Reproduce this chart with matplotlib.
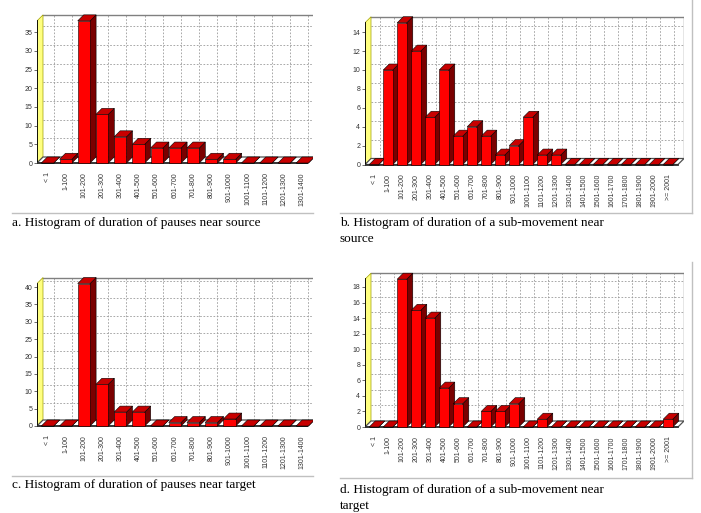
import matplotlib.pyplot as plt
from matplotlib.patches import Polygon

plt.rcParams['font.family'] = ['Liberation Sans', 'DejaVu Sans']

cats_short = ['< 1', '1-100', '101-200', '201-300', '301-400', '401-500', '501-600',
              '601-700', '701-800', '801-900', '901-1000', '1001-1100', '1101-1200',
              '1201-1300', '1301-1400']
cats_long = ['< 1', '1-100', '101-200', '201-300', '301-400', '401-500', '501-600',
             '601-700', '701-800', '801-900', '901-1000', '1001-1100', '1101-1200',
             '1201-1300', '1301-1400', '1401-1500', '1501-1600', '1601-1700',
             '1701-1800', '1801-1900', '1901-2000', '>= 2001']

pauses_source = [0, 1, 38, 13, 7, 5, 4, 4, 4, 1, 1, 0, 0, 0, 0]
submove_source = [0, 10, 15, 12, 5, 10, 3, 4, 3, 1, 2, 5, 1, 1, 0, 0, 0, 0, 0, 0, 0, 0]
pauses_target = [0, 0, 41, 12, 4, 4, 0, 1, 1, 1, 2, 0, 0, 0, 0]
submove_target = [0, 0, 19, 15, 14, 5, 3, 0, 2, 2, 3, 0, 1, 0, 0, 0, 0, 0, 0, 0, 0, 1]

captions = ['a. Histogram of duration of pauses near source',
            'b. Histogram of duration of a sub-movement near\nsource',
            'c. Histogram of duration of pauses near target',
            'd. Histogram of duration of a sub-movement near\ntarget']

W, H = 701, 513
fig = plt.figure(figsize=(W / 100, H / 100), dpi=100)


def bar3d_panel(cats, vals, yticks, axis_x, cat0, step, zero, unit, top, right, edge):
    # pixel geometry -> axes in figure coords
    bottom = zero + 5
    ax = fig.add_axes([axis_x / W, 1 - bottom / H, (right - axis_x) / W, (bottom - top) / H])
    xl = (axis_x - cat0) / step
    xr = (right - cat0) / step
    ax.set_xlim(xl, xr)
    ax.set_ylim(-5 / unit, (zero - top) / unit)
    dx = 6 / step
    dy = 6 / unit
    ymax = max(vals)
    for s in ax.spines.values():
        s.set_visible(False)

    # back wall grid
    for t in yticks[1:]:
        ax.plot([xl + dx, xr], [t + dy, t + dy], ls=(0, (2, 2)), color='#9a9a9a', lw=0.6, zorder=1)
    for i in range(len(cats)):
        ax.plot([i + dx, i + dx], [dy, ymax + dy], ls=(0, (2, 2)), color='#9a9a9a', lw=0.6, zorder=1)
    ax.plot([xl + dx, xr], [ymax + dy, ymax + dy], color='#808080', lw=1.0, zorder=1)
    if edge:
        ax.plot([xr, xr], [dy, ymax + dy], color='#808080', lw=1.0, zorder=1)

    # yellow left wall
    ax.add_patch(Polygon([(xl, 0), (xl, ymax), (xl + dx, ymax + dy), (xl + dx, dy)],
                         closed=True, fc='#ffff80', ec='#a0a000', lw=0.5, zorder=2))
    ax.plot([xl, xl], [0, ymax], color='black', lw=1.3, zorder=3)

    # floor
    ax.add_patch(Polygon([(xl, 0), (xr - dx, 0), (xr, dy), (xl + dx, dy)],
                         closed=True, fc='white', ec='#505050', lw=0.9, zorder=2))
    ax.plot([xl, xr - dx], [0, 0], color='#303030', lw=1.3, zorder=3)

    w = 0.34
    for i, v in enumerate(vals):
        front = [(i - w, 0), (i + w, 0), (i + w, v), (i - w, v)]
        topf = [(i - w, v), (i + w, v), (i + w + dx, v + dy), (i - w + dx, v + dy)]
        side = [(i + w, 0), (i + w + dx, dy), (i + w + dx, v + dy), (i + w, v)]
        ax.add_patch(Polygon(side, closed=True, fc='#7a0000', ec='black', lw=0.4, zorder=4))
        ax.add_patch(Polygon(topf, closed=True, fc='#c80000', ec='black', lw=0.4, zorder=4))
        ax.add_patch(Polygon(front, closed=True, fc='#ff0000', ec='black', lw=0.4, zorder=5))

    ax.set_yticks(yticks)
    ax.set_yticklabels([str(t) for t in yticks])
    ax.set_xticks(range(len(cats)))
    ax.set_xticklabels(cats, rotation=90, va='top', ha='center')
    ax.tick_params(axis='y', length=2, width=0.5, pad=1.5, labelsize=5, colors='#333333')
    ax.tick_params(axis='x', length=0, pad=3, labelsize=5, colors='#333333')
    return ax


bar3d_panel(cats_short, pauses_source, list(range(0, 36, 5)),
            37, 47.5, 18.2, 163, 3.74, 12, 313, False)
bar3d_panel(cats_long, submove_source, list(range(0, 15, 2)),
            365, 374, 14.0, 164.5, 9.45, 12, 684, True)
bar3d_panel(cats_short, pauses_target, list(range(0, 41, 5)),
            37, 47.5, 18.2, 426, 3.475, 272, 313, False)
bar3d_panel(cats_long, submove_target, list(range(0, 19, 2)),
            365, 374, 14.0, 427, 7.78, 272, 684, True)

# separators / frames
line_kw = dict(color='#c0c0c0', lw=1.0, transform=fig.transFigure)
fig.add_artist(plt.Line2D([12 / W, 313 / W], [1 - 213 / H, 1 - 213 / H], **line_kw))
fig.add_artist(plt.Line2D([12 / W, 313 / W], [1 - 476 / H, 1 - 476 / H], **line_kw))
fig.add_artist(plt.Line2D([340 / W, 692 / W], [1 - 213 / H, 1 - 213 / H], **line_kw))
fig.add_artist(plt.Line2D([692 / W, 692 / W], [1, 1 - 213 / H], **line_kw))
fig.add_artist(plt.Line2D([340 / W, 692 / W], [1 - 478 / H, 1 - 478 / H], **line_kw))
fig.add_artist(plt.Line2D([692 / W, 692 / W], [1 - 262 / H, 1 - 478 / H], **line_kw))

cap_kw = dict(family='Liberation Serif', fontsize=9.5, va='top', ha='left', linespacing=1.5)
fig.text(12 / W, 1 - 217 / H, captions[0], **cap_kw)
fig.text(340 / W, 1 - 217 / H, captions[1], **cap_kw)
fig.text(12 / W, 1 - 479 / H, captions[2], **cap_kw)
fig.text(340 / W, 1 - 484 / H, captions[3], **cap_kw)

fig.savefig('out.png', dpi=100)
